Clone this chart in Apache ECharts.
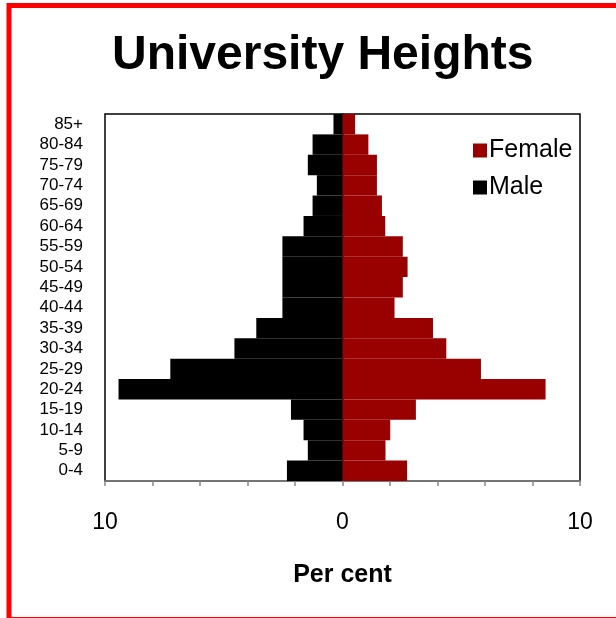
<!DOCTYPE html>
<html>
<head>
<meta charset="utf-8">
<script src="https://cdn.jsdelivr.net/npm/echarts@6/dist/echarts.min.js"></script>
<style>
html,body{margin:0;padding:0;background:#fff;}
#c{width:616px;height:618px;}
</style>
</head>
<body>
<div id="c"></div>
<script>
var categories = ['0-4','5-9','10-14','15-19','20-24','25-29','30-34','35-39','40-44','45-49','50-54','55-59','60-64','65-69','70-74','75-79','80-84','85+'];
var maleValues = [2.34,1.46,1.64,2.17,9.43,7.25,4.55,3.63,2.53,2.53,2.53,2.53,1.64,1.26,1.08,1.46,1.26,0.38];
var femaleValues = [2.72,1.81,2.01,3.09,8.55,5.83,4.37,3.81,2.19,2.54,2.74,2.54,1.80,1.66,1.45,1.45,1.09,0.53];
var xTickLabels = {'-10':'10','0':'0','10':'10'};

var chart = echarts.init(document.getElementById('c'), null, {renderer:'canvas'});
var font = 'Liberation Sans, Arial, sans-serif';
chart.setOption({
  animation:false,
  backgroundColor:'#fff',
  title:{
    text:'University Heights',
    left:107, top:27,
    textStyle:{fontFamily:font,fontWeight:'bold',fontSize:48,color:'#000'}
  },
  legend:{
    data:['Female','Male'],
    orient:'vertical',
    left:468, top:133,
    itemWidth:14, itemHeight:14, itemGap:12,
    icon:'rect',
    textStyle:{fontFamily:font,fontSize:25,color:'#000',padding:[0,0,0,-3]}
  },
  grid:{left:105,right:36,top:114,bottom:137,show:true,borderColor:'#000',borderWidth:1.5,backgroundColor:'transparent'},
  xAxis:{
    type:'value', min:-10, max:10, interval:2,
    name:'Per cent', nameLocation:'middle', nameGap:82,
    nameTextStyle:{fontFamily:font,fontWeight:'bold',fontSize:25,color:'#000'},
    axisLine:{show:true,lineStyle:{color:'#888',width:1.5}},
    axisTick:{show:true,length:5,lineStyle:{color:'#888',width:1.5}},
    splitLine:{show:false},
    axisLabel:{
      margin:30, fontFamily:font, fontSize:23, color:'#000',
      formatter:function(v){ var k=String(Math.round(v)); return xTickLabels.hasOwnProperty(k)?xTickLabels[k]:''; }
    }
  },
  yAxis:{
    type:'category', data:categories,
    axisLine:{show:true,lineStyle:{color:'#000',width:1.5}},
    axisTick:{show:false},
    axisLabel:{fontFamily:font,fontSize:17,color:'#000',margin:22,interval:0}
  },
  series:[
    {name:'Female',type:'bar',data:femaleValues,barCategoryGap:0,barGap:'-100%',itemStyle:{color:'#990000'}},
    {name:'Male',type:'bar',data:maleValues.map(function(v){return -v;}),barCategoryGap:0,barGap:'-100%',itemStyle:{color:'#000000'}}
  ],
  graphic:[
    {type:'rect',shape:{x:9,y:5.5,width:620,height:614},style:{fill:'none',stroke:'#ff0000',lineWidth:5},silent:true}
  ]
});
</script>
</body>
</html>
